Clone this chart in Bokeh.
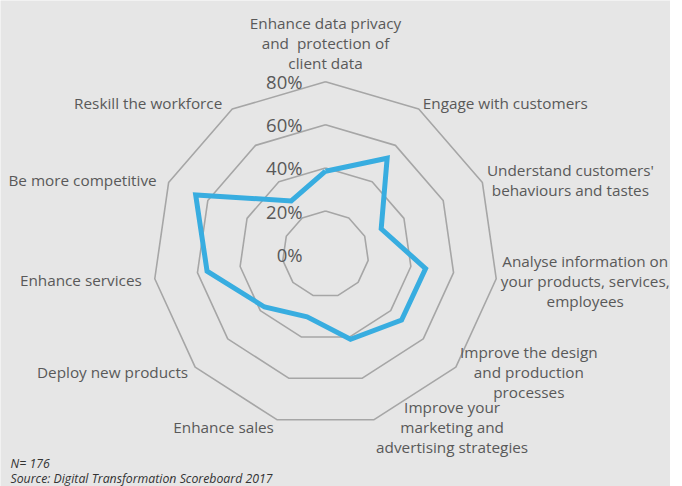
import math
from bokeh.plotting import figure
from bokeh.models import Range1d, ColumnDataSource
from bokeh.core.properties import value
from bokeh.embed import file_html
from bokeh.resources import INLINE

# ---- data ----
categories = [
    "Enhance data privacy\nand\u00a0 protection of\nclient data",
    "Engage with customers",
    "Understand customers'\nbehaviours and tastes",
    "Analyse information on\nyour products, services,\nemployees",
    "Improve the design\nand production\nprocesses",
    "Improve your\nmarketing and\nadvertising strategies",
    "Enhance sales",
    "Deploy new products",
    "Enhance services",
    "Be more competitive",
    "Reskill the workforce",
]
values = [38.5, 52.9, 28.4, 46.9, 46.7, 41.1, 30.3, 37.4, 55.5, 66.2, 29.4]
ring_levels = [20, 40, 60, 80]
tick_labels = ["0%", "20%", "40%", "60%", "80%"]
tick_values = [0, 20, 40, 60, 80]
note_lines = ["N= 176", "Source: Digital Transformation Scoreboard 2017"]

# ---- layout / style ----
K = 2.156  # px per percent
CX, CY = 325, 253.7   # centre in figure px
W, H = 670, 486
BG = "#e6e6e6"
TXT = "#595959"
FONT = value("Open Sans")

p = figure(width=W, height=H, output_backend="svg", toolbar_location=None,
           x_range=Range1d(-CX / K, (W - CX) / K),
           y_range=Range1d(-(H - CY) / K, CY / K),
           min_border=0)
p.background_fill_color = BG
p.border_fill_color = BG
p.outline_line_color = None
p.axis.visible = False
p.grid.visible = False

n = len(categories)
angles = [k * 2 * math.pi / n for k in range(n)]

def pt(r, a):
    return r * math.sin(a), r * math.cos(a)

# rings
for lv in ring_levels:
    xs = [pt(lv, a)[0] for a in angles] + [pt(lv, angles[0])[0]]
    ys = [pt(lv, a)[1] for a in angles] + [pt(lv, angles[0])[1]]
    p.line(xs, ys, line_color="#a6a6a6", line_width=1.6)

# tick labels
p.text(x=[0] * len(tick_values), y=tick_values, text=tick_labels,
       x_offset=-23, text_align="right", text_baseline="middle",
       text_font=FONT, text_font_size="18.5px", text_color=TXT)

# data line
dx = [pt(v, a)[0] for v, a in zip(values, angles)]
dy = [pt(v, a)[1] for v, a in zip(values, angles)]
p.line(dx + [dx[0]], dy + [dy[0]], line_color="#38ade0", line_width=5,
       line_join="miter")

# category labels: (align, x offset px, y offset px) from outer vertex
label_layout = [
    ("center", 0, -39),
    ("left", 4, -6),
    ("center", 88, -3),
    ("center", 89, 2),
    ("center", 73, 5),
    ("center", 78, 7),
    ("right", -3, 7),
    ("right", -7, 5),
    ("right", -13, 1),
    ("right", -12, -3),
    ("right", -10, -6),
]
LH = 20
tx, ty, tt, txo, tyo, tal = [], [], [], [], [], []
for cat, a, (al, ox, oy) in zip(categories, angles, label_layout):
    vx, vy = pt(max(ring_levels), a)
    lines = cat.split("\n")
    m = len(lines)
    for i, ln in enumerate(lines):
        tx.append(vx); ty.append(vy); tt.append(ln)
        txo.append(ox); tyo.append(oy + (i - (m - 1) / 2) * LH)
        tal.append(al)
src = ColumnDataSource(dict(x=tx, y=ty, text=tt, xo=txo, yo=tyo, al=tal))
p.text(x="x", y="y", text="text", x_offset="xo", y_offset="yo",
       text_align="al", text_baseline="middle", source=src,
       text_font=FONT, text_font_size="15.3px", text_color=TXT)

# notes
x0 = p.x_range.start
yb = p.y_range.start
p.text(x=[x0, x0], y=[yb, yb], text=note_lines,
       x_offset=[10, 10], y_offset=[-23, -8],
       text_align="left", text_baseline="middle",
       text_font=FONT, text_font_size="12.3px", text_font_style="italic",
       text_color="#333333")

open("out.html", "w").write(file_html(p, INLINE))
